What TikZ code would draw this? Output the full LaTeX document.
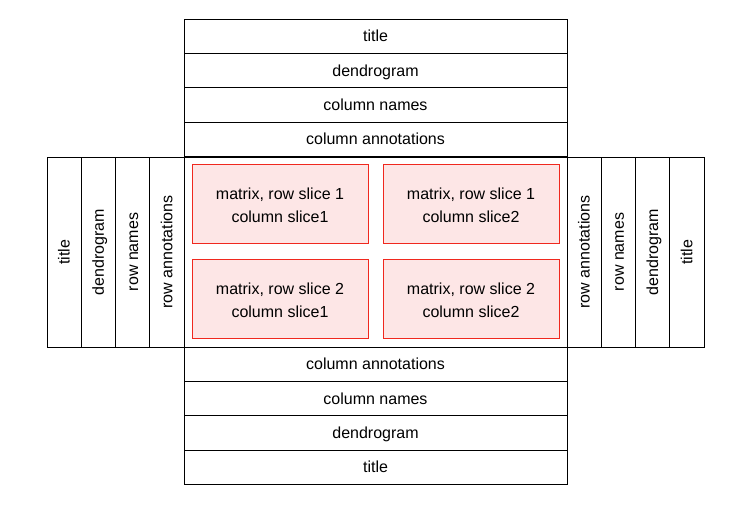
\documentclass[tikz,border=0pt]{standalone}
\usepackage{fontspec}
\setmainfont{Liberation Sans}
\usetikzlibrary{positioning}
\definecolor{slicefill}{RGB}{253, 230, 230}
\definecolor{sliceline}{RGB}{240, 40, 30}

\begin{document}
\begin{tikzpicture}[x=0.75pt,y=-0.75pt, line width=0.6pt,
  every node/.style={font=\fontsize{12}{14.5}\selectfont, inner sep=0pt, outer sep=0pt},
  rowbox/.style={draw, minimum width=287.25pt, minimum height=25.8pt, text height=1.95ex, text depth=0.4ex},
  colbox/.style={draw, rotate=90, minimum width=142.5pt, minimum height=25.7pt, text height=1.95ex, text depth=0.4ex},
  slicebox/.style={draw=sliceline, fill=slicefill, minimum width=132pt, minimum height=59.25pt, align=center}]
\useasboundingbox (0,0) rectangle (748,506);
% top
\node[rowbox] (toptitle) at (375.5,36.2) {title};
\node[rowbox] (topdend) at (375.5,70.6) {dendrogram};
\node[rowbox] (topnames) at (375.5,105) {column names};
\node[rowbox] (topanno) at (375.5,139.4) {column annotations};
% bottom
\node[rowbox] (botanno) at (375.5,364.2) {column annotations};
\node[rowbox] (botnames) at (375.5,398.6) {column names};
\node[rowbox] (botdend) at (375.5,433) {dendrogram};
\node[rowbox] (bottitle) at (375.5,467.4) {title};
% left
\node[colbox] (lefttitle) at (64.1,252) {title};
\node[colbox] (leftdend) at (98.4,252) {dendrogram};
\node[colbox] (leftnames) at (132.6,252) {row names};
\node[colbox] (leftanno) at (166.9,252) {row annotations};
% right
\node[colbox] (rightanno) at (584.1,252) {row annotations};
\node[colbox] (rightnames) at (618.4,252) {row names};
\node[colbox] (rightdend) at (652.6,252) {dendrogram};
\node[colbox] (righttitle) at (686.9,252) {title};
% body
\draw (184,157) rectangle (567,347);
\node[slicebox] (slice11) at (280,203.5) {\rule{0pt}{12pt}matrix, row slice 1\\[2.8pt]column slice1};
\node[slicebox] (slice12) at (471,203.5) {\rule{0pt}{12pt}matrix, row slice 1\\[2.8pt]column slice2};
\node[slicebox] (slice21) at (280,298.5) {\rule{0pt}{12pt}matrix, row slice 2\\[2.8pt]column slice1};
\node[slicebox] (slice22) at (471,298.5) {\rule{0pt}{12pt}matrix, row slice 2\\[2.8pt]column slice2};
\end{tikzpicture}
\end{document}
